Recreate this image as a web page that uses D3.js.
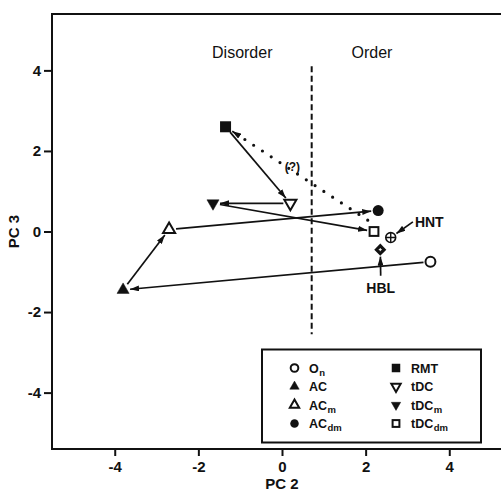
<!DOCTYPE html>
<html>
<head>
<meta charset="utf-8">
<script src="https://cdn.jsdelivr.net/npm/d3@7/dist/d3.min.js"></script>
<style>
  html, body { margin: 0; padding: 0; background: #fff; }
  svg { display: block; }
  text { font-family: "Liberation Sans", Arial, Helvetica, sans-serif; fill: #111; }
</style>
</head>
<body>
<svg id="chart" width="501" height="491"></svg>
<script>
// Sample positions in principal-component space (PC 2 vs PC 3)
const pointNames = ["On", "AC", "ACm", "ACdm", "RMT", "tDC", "tDCm", "tDCdm", "HNT", "HBL"];
const pc2Values  = [3.55, -3.8, -2.7, 2.3, -1.35, 0.2, -1.65, 2.2, 2.6, 2.35];
const pc3Values  = [-0.75, -1.45, 0.05, 0.52, 2.6, 0.7, 0.7, 0.0, -0.15, -0.45];
const pointKinds = ["circleOpen", "triUpFilled", "triUpOpen", "circleFilled", "squareFilled",
                    "triDownOpen", "triDownFilled", "squareOpen", "circlePlus", "diamondFilled"];

// Transformation pathways (solid arrows)
const arrowFrom = ["On", "AC", "ACm", "RMT", "tDC", "tDCm"];
const arrowTo   = ["AC", "ACm", "ACdm", "tDC", "tDCm", "tDCdm"];

// Uncertain pathway (dotted arrow), starting point in data units
const dottedStart = [2.05, 0.28];
const dottedTo = "RMT";
const dottedLabel = "(?)";
const dottedLabelPos = [0.25, 1.5];

// Callout labels for reference compounds
const calloutText  = ["HNT", "HBL"];
const calloutFrom  = [[3.13, 0.24], [2.36, -1.1]];
const calloutTarget = ["HNT", "HBL"];

// Order / disorder boundary
const boundaryPC2 = 0.71;
const boundaryPC3 = [-2.55, 4.1];
const regionLabels = ["Disorder", "Order"];
const regionLabelPC2 = [-0.95, 2.15];
const regionLabelPC3 = 4.3;

// Axis ticks
const xTicks = [-4, -2, 0, 2, 4];
const yTicks = [-4, -2, 0, 2, 4];
const xTitle = "PC 2";
const yTitle = "PC 3";

// Legend entries: [symbol kind, main text, subscript]
const legendLeft = [
  ["circleOpen", "O", "n"],
  ["triUpFilled", "AC", ""],
  ["triUpOpen", "AC", "m"],
  ["circleFilled", "AC", "dm"]
];
const legendRight = [
  ["squareFilled", "RMT", ""],
  ["triDownOpen", "tDC", ""],
  ["triDownFilled", "tDC", "m"],
  ["squareOpen", "tDC", "dm"]
];

const svg = d3.select("#chart");
const x = d3.scaleLinear().domain([-5.5, 5.5]).range([52, 512]);
const y = d3.scaleLinear().domain([-5.4, 5.4]).range([449, 14]);

const ink = "#111";

// Arrowhead marker
const defs = svg.append("defs");
defs.append("marker")
  .attr("id", "head")
  .attr("markerUnits", "userSpaceOnUse")
  .attr("viewBox", "0 0 9 6")
  .attr("refX", 9).attr("refY", 3)
  .attr("markerWidth", 9).attr("markerHeight", 6)
  .attr("orient", "auto")
  .append("path").attr("d", "M0,0 L9,3 L0,6 Z").attr("fill", ink);

// Frame
svg.append("path")
  .attr("d", `M${x.range()[1]},${y(5.4)} H${x(-5.5)} V${y(-5.4)} H${x.range()[1]}`)
  .attr("fill", "none").attr("stroke", ink).attr("stroke-width", 2);

// Axes
const xAxis = svg.append("g")
  .attr("transform", `translate(0,${y(-5.4)})`)
  .call(d3.axisBottom(x).tickValues(xTicks).tickSize(7).tickPadding(5).tickFormat(d => String(d)));
const yAxis = svg.append("g")
  .attr("transform", `translate(${x(-5.5)},0)`)
  .call(d3.axisLeft(y).tickValues(yTicks).tickSize(8).tickPadding(3).tickFormat(d => String(d)));
[xAxis, yAxis].forEach(a => {
  a.select(".domain").remove();
  a.selectAll(".tick line").attr("stroke", ink).attr("stroke-width", 2);
  a.selectAll(".tick text")
    .attr("fill", ink)
    .style("font-size", "15px").style("font-weight", "bold")
    .style("font-family", "'Liberation Sans', Arial, sans-serif");
});

svg.append("text")
  .attr("x", x(0)).attr("y", 489)
  .attr("text-anchor", "middle")
  .style("font-size", "15px").style("font-weight", "bold")
  .text(xTitle);
svg.append("text")
  .attr("transform", `translate(19,${y(0)}) rotate(-90)`)
  .attr("text-anchor", "middle")
  .style("font-size", "15px").style("font-weight", "bold")
  .text(yTitle);

// Boundary line and region labels
svg.append("line")
  .attr("x1", x(boundaryPC2)).attr("x2", x(boundaryPC2))
  .attr("y1", y(boundaryPC3[1])).attr("y2", y(boundaryPC3[0]))
  .attr("stroke", ink).attr("stroke-width", 2).attr("stroke-dasharray", "6,3.5");
svg.selectAll(".region").data(regionLabels).join("text")
  .attr("class", "region")
  .attr("x", (d, i) => x(regionLabelPC2[i]))
  .attr("y", y(regionLabelPC3))
  .attr("text-anchor", "middle")
  .style("font-size", "16px")
  .text(d => d);

// Symbol drawing
function drawSymbol(g, kind, cx, cy, s) {
  const sw = 2;
  if (kind === "circleOpen") {
    g.append("circle").attr("cx", cx).attr("cy", cy).attr("r", s * 0.45)
      .attr("fill", "#fff").attr("stroke", ink).attr("stroke-width", sw);
  } else if (kind === "circleFilled") {
    g.append("circle").attr("cx", cx).attr("cy", cy).attr("r", s * 0.5).attr("fill", ink);
  } else if (kind === "circlePlus") {
    const r = s * 0.45;
    g.append("circle").attr("cx", cx).attr("cy", cy).attr("r", r)
      .attr("fill", "#fff").attr("stroke", ink).attr("stroke-width", 1.6);
    g.append("path").attr("d", `M${cx - r},${cy} H${cx + r} M${cx},${cy - r} V${cy + r}`)
      .attr("stroke", ink).attr("stroke-width", 1.4);
  } else if (kind === "squareFilled" || kind === "squareOpen") {
    const h = kind === "squareFilled" ? s * 0.5 : s * 0.4;
    g.append("rect").attr("x", cx - h).attr("y", cy - h).attr("width", 2 * h).attr("height", 2 * h)
      .attr("fill", kind === "squareFilled" ? ink : "#fff")
      .attr("stroke", ink).attr("stroke-width", kind === "squareFilled" ? 0 : sw);
  } else if (kind.startsWith("tri")) {
    const up = kind.startsWith("triUp");
    const filled = kind.endsWith("Filled");
    const w = s * 0.55, h = s * 0.95, dir = up ? 1 : -1;
    const d = `M${cx},${cy - dir * h * 2 / 3} L${cx + w},${cy + dir * h / 3} L${cx - w},${cy + dir * h / 3} Z`;
    g.append("path").attr("d", d)
      .attr("fill", filled ? ink : "#fff")
      .attr("stroke", ink).attr("stroke-width", filled ? 0.5 : sw)
      .attr("stroke-linejoin", "miter");
  } else if (kind === "diamondFilled") {
    const h = s * 0.55;
    g.append("path").attr("d", `M${cx},${cy - h} L${cx + h},${cy} L${cx},${cy + h} L${cx - h},${cy} Z`)
      .attr("fill", ink);
    g.append("path").attr("d", `M${cx - 1.5},${cy} H${cx + 1.5} M${cx},${cy - 1.5} V${cy + 1.5}`)
      .attr("stroke", "#fff").attr("stroke-width", 1);
  }
}

const pos = {};
pointNames.forEach((n, i) => { pos[n] = [x(pc2Values[i]), y(pc3Values[i])]; });

// Trim a segment so it stops short of the symbols at either end
function trimmed(p0, p1, g0, g1) {
  const dx = p1[0] - p0[0], dy = p1[1] - p0[1];
  const L = Math.hypot(dx, dy);
  return [p0[0] + dx * g0 / L, p0[1] + dy * g0 / L, p1[0] - dx * g1 / L, p1[1] - dy * g1 / L];
}

const arrowG = svg.append("g");
arrowFrom.forEach((f, i) => {
  const t = arrowTo[i];
  const [x1, y1, x2, y2] = trimmed(pos[f], pos[t], 7, 7);
  arrowG.append("line")
    .attr("x1", x1).attr("y1", y1).attr("x2", x2).attr("y2", y2)
    .attr("stroke", ink).attr("stroke-width", 1.7)
    .attr("marker-end", "url(#head)");
});

// Dotted pathway
{
  const p0 = [x(dottedStart[0]), y(dottedStart[1])];
  const [x1, y1, x2, y2] = trimmed(p0, pos[dottedTo], 0, 8);
  const L = Math.hypot(x2 - x1, y2 - y1);
  const ux = (x2 - x1) / L, uy = (y2 - y1) / L;
  arrowG.append("line")
    .attr("x1", x1).attr("y1", y1).attr("x2", x2 - ux * 12).attr("y2", y2 - uy * 12)
    .attr("stroke", ink).attr("stroke-width", 3.2)
    .attr("stroke-linecap", "round").attr("stroke-dasharray", "0,10.5");
  // short solid piece carrying the arrowhead
  arrowG.append("line")
    .attr("x1", x2 - ux * 9).attr("y1", y2 - uy * 9).attr("x2", x2).attr("y2", y2)
    .attr("stroke", ink).attr("stroke-width", 1.7)
    .attr("marker-end", "url(#head)");
  svg.append("text")
    .attr("x", x(dottedLabelPos[0])).attr("y", y(dottedLabelPos[1]))
    .attr("text-anchor", "middle")
    .style("font-size", "12px").style("font-weight", "bold")
    .text(dottedLabel);
}

// Callouts
calloutText.forEach((txt, i) => {
  const p0 = [x(calloutFrom[i][0]), y(calloutFrom[i][1])];
  const [x1, y1, x2, y2] = trimmed(p0, pos[calloutTarget[i]], 0, 7);
  arrowG.append("line")
    .attr("x1", x1).attr("y1", y1).attr("x2", x2).attr("y2", y2)
    .attr("stroke", ink).attr("stroke-width", 1.7)
    .attr("marker-end", "url(#head)");
});
svg.append("text")
  .attr("x", x(calloutFrom[0][0]) + 2).attr("y", y(calloutFrom[0][1]) + 5)
  .style("font-size", "14px").style("font-weight", "bold")
  .text(calloutText[0]);
svg.append("text")
  .attr("x", x(calloutFrom[1][0])).attr("y", y(calloutFrom[1][1]) + 17)
  .attr("text-anchor", "middle")
  .style("font-size", "14px").style("font-weight", "bold")
  .text(calloutText[1]);

// Data symbols
const symG = svg.append("g");
pointNames.forEach((n, i) => drawSymbol(symG, pointKinds[i], pos[n][0], pos[n][1], 11));

// Legend
const lg = svg.append("g");
lg.append("rect").attr("x", 262).attr("y", 349.5).attr("width", 219).attr("height", 93)
  .attr("fill", "#fff").attr("stroke", ink).attr("stroke-width", 2);
const rowY = [368, 386.5, 405, 423.5];
function legendCol(items, symX, textX) {
  items.forEach((it, i) => {
    drawSymbol(lg, it[0], symX, rowY[i], 8.5);
    const t = lg.append("text").attr("x", textX).attr("y", rowY[i] + 4.5)
      .style("font-size", "12.5px").style("font-weight", "bold");
    t.append("tspan").text(it[1]);
    if (it[2]) t.append("tspan").attr("dy", 3).attr("dx", 0.5).style("font-size", "9.5px").text(it[2]);
  });
}
legendCol(legendLeft, 294.5, 309);
legendCol(legendRight, 396, 411);
</script>
</body>
</html>
